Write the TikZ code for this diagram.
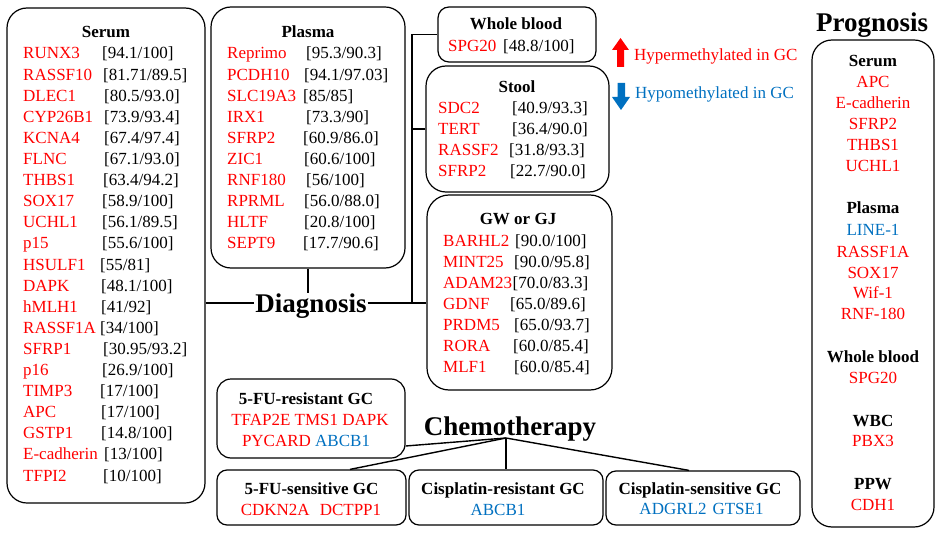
\documentclass[tikz,border=0pt]{standalone}
\usepackage{fontspec}
\setmainfont{Liberation Serif}
\definecolor{hyper}{RGB}{255,0,0}
\definecolor{hypo}{RGB}{0,112,192}
\begin{document}
\begin{tikzpicture}[x=1pt,y=-1pt,
  every node/.style={inner sep=0pt, font=\fontsize{17}{20}\selectfont},
  box/.style={draw, line width=1.2pt, rounded corners=#1, inner sep=0pt},
  box/.default=20pt,
  gene/.style={anchor=base west, text=hyper},
  val/.style={anchor=base west},
  ttl/.style={anchor=base, font=\fontsize{17}{20}\selectfont\bfseries},
  head/.style={anchor=base, inner xsep=1pt, font=\fontsize{27}{30}\selectfont\bfseries},
  ctr/.style={anchor=base, text=hyper},
  conn/.style={line width=1.4pt}]
\useasboundingbox (0,0) rectangle (941,537);

% ---------- boxes ----------
\node[box=20pt, minimum width=198pt, minimum height=495pt] (serum) at (106,255.5) {};
\node[box=20pt, minimum width=194pt, minimum height=261pt] (plasma) at (308,137.5) {};
\node[box=11pt, minimum width=158pt, minimum height=55pt] (wb) at (517,34.5) {};
\node[box=20pt, minimum width=183pt, minimum height=126pt] (stool) at (517.5,129) {};
\node[box=22pt, minimum width=185pt, minimum height=195pt] (gw) at (519.5,292.5) {};
\node[box=20pt, minimum width=122pt, minimum height=487pt] (prog) at (873,283.5) {};
\node[box=14pt, minimum width=188pt, minimum height=79pt] (r5fu) at (311,418.5) {};
\node[box=10pt, minimum width=189pt, minimum height=55pt] (s5fu) at (311.5,497.5) {};
\node[box=10pt, minimum width=194pt, minimum height=55pt] (cres) at (506,497.5) {};
\node[box=10pt, minimum width=194pt, minimum height=54pt] (csen) at (703,498) {};

% ---------- headings ----------
\node[head] (diag) at (311,312) {Diagnosis};
\node[head] (chemo) at (510,435) {Chemotherapy};
\node[head] (progt) at (872,32) {Prognosis};

% ---------- diagnosis connectors ----------
\coordinate (bus) at (412,303);
\draw[conn] (serum.east |- bus) -- (diag.west |- bus);
\draw[conn] (diag.east |- bus) -- (gw.west |- bus);
\draw[conn] (plasma.south) -- (plasma.south |- diag.north);
\draw[conn] (wb.west) -| (bus);
\draw[conn] (stool.west) -| (bus);

% ---------- chemotherapy connectors ----------
\coordinate (hub) at (506,438);
\draw[conn] (hub) -- ([yshift=-27.5pt]r5fu.east);
\draw[conn] (hub) -- ([xshift=38.5pt]s5fu.north);
\draw[conn] (hub) -- (cres.north);
\draw[conn] (hub) -- ([xshift=-14pt]csen.north);

% ---------- Serum ----------
\node[ttl] (serumt) at (106,38) {Serum};
\node[gene] (s0) at (23,59) {RUNX3};      \node[val] (s0v) at (102,59) {[94.1/100]};
\node[gene] (s1) at (23,80.1) {RASSF10};  \node[val] (s1v) at (103,80.1) {[81.71/89.5]};
\node[gene] (s2) at (23,101.2) {DLEC1};   \node[val] (s2v) at (104,101.2) {[80.5/93.0]};
\node[gene] (s3) at (23,122.3) {CYP26B1}; \node[val] (s3v) at (104,122.3) {[73.9/93.4]};
\node[gene] (s4) at (23,143.4) {KCNA4};   \node[val] (s4v) at (104,143.4) {[67.4/97.4]};
\node[gene] (s5) at (23,164.5) {FLNC};    \node[val] (s5v) at (104,164.5) {[67.1/93.0]};
\node[gene] (s6) at (23,185.6) {THBS1};   \node[val] (s6v) at (103,185.6) {[63.4/94.2]};
\node[gene] (s7) at (23,206.7) {SOX17};   \node[val] (s7v) at (102,206.7) {[58.9/100]};
\node[gene] (s8) at (23,227.8) {UCHL1};   \node[val] (s8v) at (102,227.8) {[56.1/89.5]};
\node[gene] (s9) at (23,248.9) {p15};     \node[val] (s9v) at (102,248.9) {[55.6/100]};
\node[gene] (s10) at (23,270) {HSULF1};   \node[val] (s10v) at (100,270) {[55/81]};
\node[gene] (s11) at (23,291.1) {DAPK};   \node[val] (s11v) at (101,291.1) {[48.1/100]};
\node[gene] (s12) at (23,312.2) {hMLH1};  \node[val] (s12v) at (101,312.2) {[41/92]};
\node[gene] (s13) at (23,333.3) {RASSF1A};\node[val] (s13v) at (100,333.3) {[34/100]};
\node[gene] (s14) at (23,354.4) {SFRP1};  \node[val] (s14v) at (103,354.4) {[30.95/93.2]};
\node[gene] (s15) at (23,375.5) {p16};    \node[val] (s15v) at (102,375.5) {[26.9/100]};
\node[gene] (s16) at (23,396.6) {TIMP3};  \node[val] (s16v) at (100,396.6) {[17/100]};
\node[gene] (s17) at (23,417.7) {APC};    \node[val] (s17v) at (101,417.7) {[17/100]};
\node[gene] (s18) at (23,438.8) {GSTP1};  \node[val] (s18v) at (101,438.8) {[14.8/100]};
\node[gene] (s19) at (23,459.9) {E-cadherin}; \node[val] (s19v) at (104,459.9) {[13/100]};
\node[gene] (s20) at (23,481) {TFPI2};    \node[val] (s20v) at (103,481) {[10/100]};

% ---------- Plasma ----------
\node[ttl] (plasmat) at (308,38) {Plasma};
\node[gene] (p0) at (227,59) {Reprimo};    \node[val] (p0v) at (306,59) {[95.3/90.3]};
\node[gene] (p1) at (227,80.1) {PCDH10};   \node[val] (p1v) at (304,80.1) {[94.1/97.03]};
\node[gene] (p2) at (227,101.2) {SLC19A3}; \node[val] (p2v) at (303,101.2) {[85/85]};
\node[gene] (p3) at (227,122.3) {IRX1};    \node[val] (p3v) at (306,122.3) {[73.3/90]};
\node[gene] (p4) at (227,143.4) {SFRP2};   \node[val] (p4v) at (303,143.4) {[60.9/86.0]};
\node[gene] (p5) at (227,164.5) {ZIC1};    \node[val] (p5v) at (304,164.5) {[60.6/100]};
\node[gene] (p6) at (227,185.6) {RNF180};  \node[val] (p6v) at (306,185.6) {[56/100]};
\node[gene] (p7) at (227,206.7) {RPRML};   \node[val] (p7v) at (304,206.7) {[56.0/88.0]};
\node[gene] (p8) at (227,227.8) {HLTF};    \node[val] (p8v) at (304,227.8) {[20.8/100]};
\node[gene] (p9) at (227,248.9) {SEPT9};   \node[val] (p9v) at (303,248.9) {[17.7/90.6]};

% ---------- Whole blood ----------
\node[ttl] (wbt) at (516,30) {Whole blood};
\node[gene] (w0) at (448,52) {SPG20}; \node[val] (w0v) at (503,52) {[48.8/100]};

% ---------- Stool ----------
\node[ttl] (stoolt) at (517,93) {Stool};
\node[gene] (t0) at (438,114) {SDC2};   \node[val] (t0v) at (512,114) {[40.9/93.3]};
\node[gene] (t1) at (438,135) {TERT};   \node[val] (t1v) at (512,135) {[36.4/90.0]};
\node[gene] (t2) at (438,156) {RASSF2}; \node[val] (t2v) at (509,156) {[31.8/93.3]};
\node[gene] (t3) at (438,177) {SFRP2};  \node[val] (t3v) at (510,177) {[22.7/90.0]};

% ---------- GW or GJ ----------
\node[ttl] (gwt) at (518,225) {GW or GJ};
\node[gene] (g0) at (443,246) {BARHL2};   \node[val] (g0v) at (515,246) {[90.0/100]};
\node[gene] (g1) at (443,267.1) {MINT25}; \node[val] (g1v) at (514,267.1) {[90.0/95.8]};
\node[gene] (g2) at (443,288.2) {ADAM23}; \node[val] (g2v) at (512.5,288.2) {[70.0/83.3]};
\node[gene] (g3) at (443,309.3) {GDNF};   \node[val] (g3v) at (510,309.3) {[65.0/89.6]};
\node[gene] (g4) at (443,330.4) {PRDM5};  \node[val] (g4v) at (514,330.4) {[65.0/93.7]};
\node[gene] (g5) at (443,351.5) {RORA};   \node[val] (g5v) at (513,351.5) {[60.0/85.4]};
\node[gene] (g6) at (443,372.6) {MLF1};   \node[val] (g6v) at (514,372.6) {[60.0/85.4]};

% ---------- legend ----------
\fill[hyper] (617,67) -- (617,50) -- (612,50) -- (620.5,38) -- (629,50) -- (624,50) -- (624,67) -- cycle;
\fill[hypo] (617.5,83) -- (617.5,97) -- (612,97) -- (621,110) -- (630,97) -- (625,97) -- (625,83) -- cycle;
\node[anchor=base west, text=hyper] (leg1) at (634,61) {Hypermethylated in GC};
\node[anchor=base west, text=hypo] (leg2) at (635,99) {Hypomethylated in GC};

% ---------- Prognosis ----------
\node[ttl] (q1) at (873,67) {Serum};
\node[ctr] (q2) at (873,88) {APC};
\node[ctr] (q3) at (873,109) {E-cadherin};
\node[ctr] (q4) at (873,130) {SFRP2};
\node[ctr] (q5) at (873,151) {THBS1};
\node[ctr] (q6) at (873,172) {UCHL1};
\node[ttl] (q7) at (873,214) {Plasma};
\node[ctr, text=hypo] (q8) at (873,235) {LINE-1};
\node[ctr] (q9) at (873,257) {RASSF1A};
\node[ctr] (q10) at (873,278) {SOX17};
\node[ctr] (q11) at (873,298) {Wif-1};
\node[ctr] (q12) at (873,319) {RNF-180};
\node[ttl] (q13) at (873,362) {Whole blood};
\node[ctr] (q14) at (873,383) {SPG20};
\node[ttl] (q15) at (873,426) {WBC};
\node[ctr] (q16) at (873,446) {PBX3};
\node[ttl] (q17) at (873,489) {PPW};
\node[ctr] (q18) at (873,510) {CDH1};

% ---------- Chemotherapy boxes ----------
\node[ttl] (r5t) at (306,404) {5-FU-resistant GC};
\node[ctr] (r5a) at (310,425) {TFAP2E TMS1 DAPK};
\node[anchor=base] (r5b) at (306,446) {\textcolor{hyper}{PYCARD} \textcolor{hypo}{ABCB1}};
\node[ttl] (s5t) at (311.5,494) {5-FU-sensitive GC};
\node[ctr] (s5a) at (311,515) {CDKN2A\hspace{10pt}DCTPP1};
\node[ttl] (crt) at (503,494) {Cisplatin-resistant GC};
\node[ctr, text=hypo] (cra) at (498,515) {ABCB1};
\node[ttl] (cst) at (700,494) {Cisplatin-sensitive GC};
\node[ctr, text=hypo] (csa) at (701.5,514) {ADGRL2\hspace{6pt}GTSE1};
\end{tikzpicture}
\end{document}
